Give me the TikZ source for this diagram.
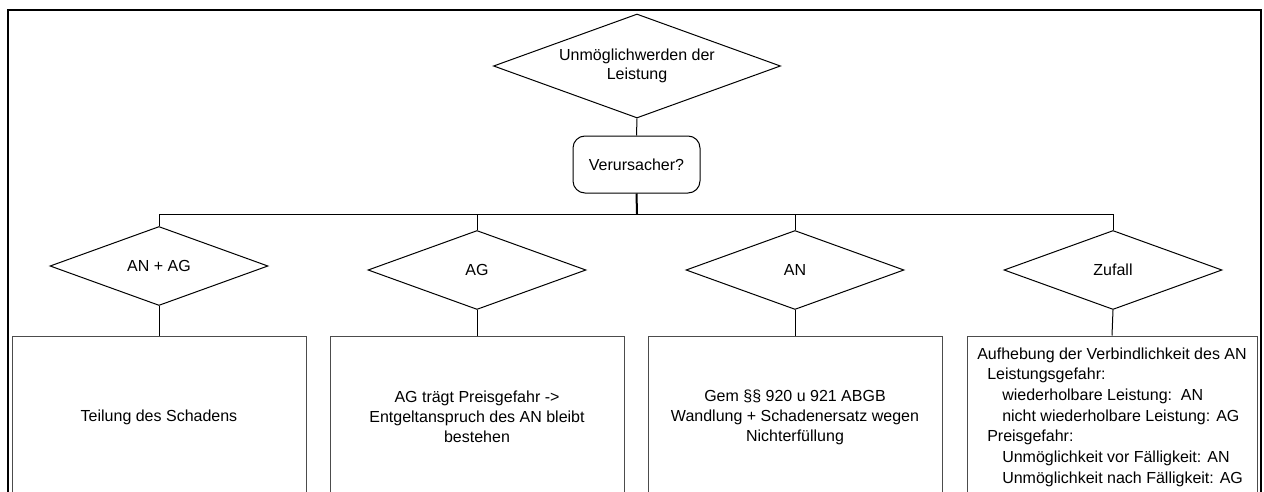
\documentclass[tikz,border=0pt]{standalone}
\usepackage{fontspec}
\setmainfont{Liberation Sans}
\usetikzlibrary{shapes.geometric}
\begin{document}
% one coordinate unit = one pixel of a 1264 x 492 canvas (0.75pt)
\begin{tikzpicture}[x=0.75pt,y=-0.75pt,
  every node/.style={font=\fontsize{12}{15}\selectfont, inner sep=0pt},
  line/.style={draw=black, line width=0.75pt},
  topdec/.style={diamond, line, shape aspect=2.76, minimum width=215.25pt, minimum height=78pt},
  subdec/.style={diamond, line, shape aspect=2.76, minimum width=163.5pt, minimum height=59.25pt},
  resultbox/.style={rectangle, draw=black!70, line width=0.75pt,
    minimum width=220.5pt, minimum height=121.5pt, align=center},
  question/.style={rectangle, rounded corners=9pt, line,
    minimum width=95.25pt, minimum height=42.75pt},
  frameline/.style={line width=2.2pt, draw=black}
]
\useasboundingbox (0,0) rectangle (1264,492);
\clip (0,0) rectangle (1264,492);

% outer frame (open at the bottom of the visible area)
\draw[frameline] (8,560) -- (8,10) -- (1261,10) -- (1261,560);

% main question
\node[topdec] (top) at (637,66) {\begin{tabular}{@{}c@{}}Unmöglichwerden der\\[-1pt]Leistung\end{tabular}};
\node[question] (ver) at (636.5,164.5) {Verursacher?};

% bus level
\coordinate (bus) at (637,214);

% branches
\node[subdec] (d1) at (159,266) {AN + AG};
\node[subdec] (d2) at (477,270) {AG};
\node[subdec] (d3) at (795,270) {AN};
\node[subdec] (d4) at (1113,270) {Zufall};

% results
\node[resultbox] (r1) at (159,417) {Teilung des Schadens};
\node[resultbox] (r2) at (477,417) {AG trägt Preisgefahr ->\\Entgeltanspruch des AN bleibt\\bestehen};
\node[resultbox] (r3) at (795,417) {Gem §§ 920 u 921 ABGB\\Wandlung + Schadenersatz wegen\\Nichterfüllung};
\node[resultbox, minimum width=217.5pt, font=\fontsize{12}{15.5}\selectfont, align=left] (r4) at (1112,417)
  {Aufhebung der Verbindlichkeit des AN\\
   \hspace*{7.5pt}Leistungsgefahr:\\
   \hspace*{18.75pt}wiederholbare Leistung:\ \ AN\\
   \hspace*{18.75pt}nicht wiederholbare Leistung: AG\\
   \hspace*{7.5pt}Preisgefahr:\\
   \hspace*{18.75pt}Unmöglichkeit vor Fälligkeit: AN\\
   \hspace*{18.75pt}Unmöglichkeit nach Fälligkeit: AG};

% connectors
\draw[line] (top.south) -- (ver.north);
\draw[line, line width=1.5pt] (ver.south) -- (bus);
\draw[line] (bus -| d1.north) -- (bus -| d4.north);
\foreach \d in {d1,d2,d3,d4} {
  \draw[line] (bus -| \d.north) -- (\d.north);
}
\draw[line] (d1.south) -- (r1.north);
\draw[line] (d2.south) -- (r2.north);
\draw[line] (d3.south) -- (r3.north);
\draw[line] (d4.south) -- (r4.north);
\end{tikzpicture}
\end{document}
